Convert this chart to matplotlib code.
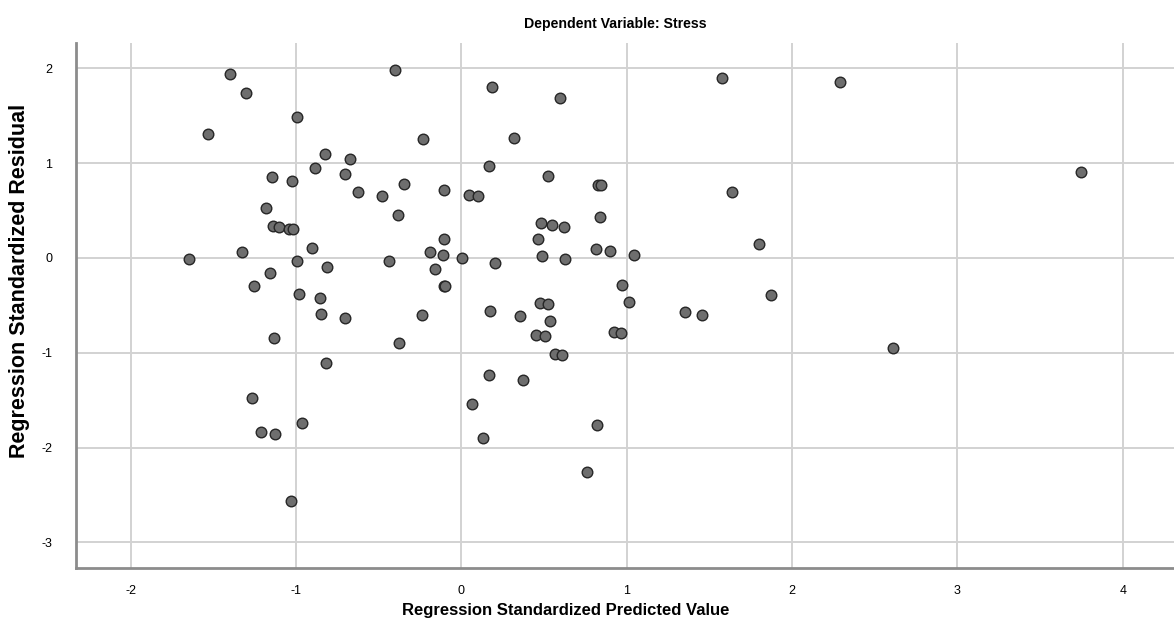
import matplotlib.pyplot as plt

# standardized predicted values (x) and standardized residuals (y)
pred = [-1.399, -1.301, -0.996, -1.534, -0.824, -0.671, -0.887, -0.702, -1.147, -1.022,
        -0.623, -1.180, -1.139, -1.101, -1.042, -1.016, -0.901, -1.325, -1.645, -0.994,
        -0.814, -1.159, -1.254, -0.980, -0.853, -0.847, -0.705, -1.133, -0.817, -1.266,
        -0.964, -1.212, -1.125, -1.032,
        -0.399, 0.186, 0.595, -0.232, 0.317, 0.168, -0.347, 0.524, 0.829, 0.843,
        -0.482, -0.107, 0.045, 0.103, -0.385, 0.841, 0.482, 0.549, 0.619, 0.462,
        -0.103, 0.815, 0.901, 1.041, -0.189, -0.109, 0.004, 0.486, 0.627, -0.441,
        0.204, -0.157, -0.105, -0.100, 0.972, 1.013, 0.478, 0.524,
        -0.236, -0.375, 0.172, 0.353, 0.537, 0.452, 0.504, 0.924, 0.964, 0.565,
        0.611, 0.168, 0.373, 0.065, 0.821, 0.129, 0.759,
        1.353, 1.458, 1.871, 2.610, 1.575, 2.287, 1.638, 1.801, 3.749]
resid = [1.944, 1.744, 1.484, 1.308, 1.094, 1.047, 0.946, 0.889, 0.854, 0.816,
         0.696, 0.524, 0.341, 0.330, 0.309, 0.303, 0.102, 0.060, -0.014, -0.035,
         -0.092, -0.161, -0.299, -0.383, -0.419, -0.591, -0.633, -0.844, -1.104, -1.480,
         -1.741, -1.835, -1.860, -2.567,
         1.986, 1.807, 1.688, 1.255, 1.262, 0.970, 0.784, 0.861, 0.770, 0.770,
         0.658, 0.714, 0.668, 0.654, 0.457, 0.432, 0.369, 0.348, 0.327, 0.204,
         0.204, 0.098, 0.074, 0.028, 0.060, 0.035, 0.003, 0.025, -0.014, -0.028,
         -0.056, -0.116, -0.299, -0.299, -0.288, -0.464, -0.478, -0.488,
         -0.605, -0.900, -0.556, -0.608, -0.665, -0.809, -0.823, -0.781, -0.791, -1.009,
         -1.027, -1.231, -1.290, -1.540, -1.765, -1.899, -2.254,
         -0.573, -0.601, -0.387, -0.946, 1.902, 1.860, 0.700, 0.144, 0.911]

xticks = [-2, -1, 0, 1, 2, 3, 4]
yticks = [-3, -2, -1, 0, 1, 2]

fonte = ['Liberation Sans', 'DejaVu Sans']

fig = plt.figure(figsize=(11.74, 6.42), dpi=100)
ax = fig.add_axes([0.0645, 0.1148, 0.9355, 0.8187])

ax.scatter(pred, resid, s=58, facecolor='#6e6e6e', edgecolor='#262626',
           linewidth=1.0, zorder=3)

ax.set_xlim(-2.333, 4.31)
ax.set_ylim(-3.273, 2.271)
ax.set_xticks(xticks)
ax.set_yticks(yticks)
ax.set_xticklabels([str(t) for t in xticks], family=fonte, fontsize=9)
ax.set_yticklabels([str(t) for t in yticks], family=fonte, fontsize=9)
ax.tick_params(length=0)
ax.tick_params(axis='x', pad=12)
ax.tick_params(axis='y', pad=17)

ax.grid(True, color='#d2d2d2', linewidth=1.4)
ax.set_axisbelow(True)
for s in ['top', 'right']:
    ax.spines[s].set_visible(False)
for s in ['left', 'bottom']:
    ax.spines[s].set_color('#8c8c8c')
    ax.spines[s].set_linewidth(2)

fig.text(615 / 1174, 1 - 24 / 642, 'Dependent Variable: Stress', family=fonte,
         fontsize=10.2, fontweight='bold', ha='center', va='center')
fig.text(566 / 1174, 1 - 611 / 642, 'Regression Standardized Predicted Value', family=fonte,
         fontsize=12, fontweight='bold', ha='center', va='center')
fig.text(20 / 1174, 1 - 281 / 642, 'Regression Standardized Residual', family=fonte,
         fontsize=15.5, fontweight='bold', ha='center', va='center', rotation=90)

plt.savefig('out.png', dpi=100)
